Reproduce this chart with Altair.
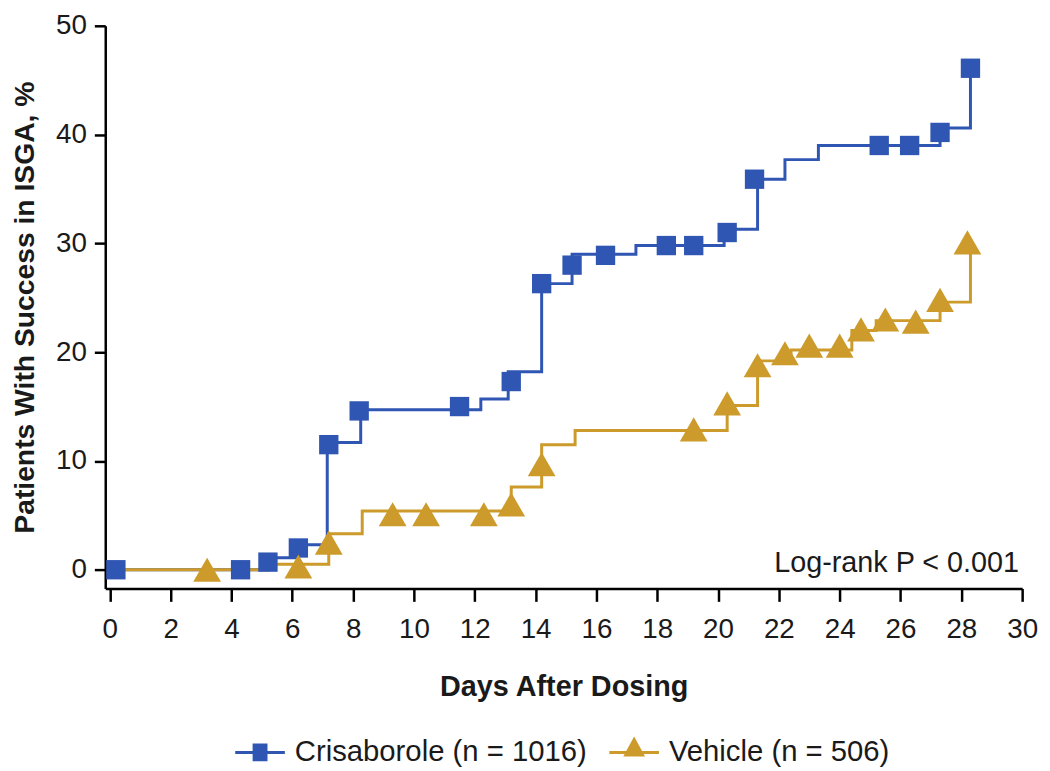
import altair as alt
import pandas as pd

FONT = "Liberation Sans"
TEXT = "#1a1a1a"

series_names = ["Crisaborole (n = 1016)", "Vehicle (n = 506)"]
series_colors = ["#3056b3", "#cc9b2b"]

# Kaplan-Meier style step curves (day, cumulative % success)
cris_step_day = [0, 5.2, 6.2, 7.15, 8.25, 12.2, 13.1, 14.2, 15.2, 17.3, 20.2, 21.3, 22.2, 23.3, 27.3, 28.3]
cris_step_pct = [0, 1.1, 2.3, 11.7, 14.7, 15.7, 18.2, 26.3, 29.0, 29.8, 31.3, 35.9, 37.7, 39.0, 40.6, 46.1]
veh_step_day = [0, 5.2, 7.2, 8.3, 13.2, 14.2, 15.3, 20.3, 21.3, 22.4, 24.4, 25.2, 27.3, 28.3]
veh_step_pct = [0, 0.5, 3.3, 5.4, 7.6, 11.5, 12.8, 15.1, 19.2, 20.2, 22.0, 22.9, 24.6, 29.5]

# censoring markers
cris_mark_day = [0.2, 4.3, 5.2, 6.2, 7.2, 8.2, 11.5, 13.2, 14.2, 15.2, 16.3, 18.3, 19.2, 20.3, 21.2, 25.3, 26.3, 27.3, 28.3]
cris_mark_pct = [0, 0, 0.7, 2.0, 11.5, 14.6, 15.0, 17.3, 26.3, 28.0, 28.9, 29.8, 29.8, 31.0, 35.9, 39.0, 39.0, 40.2, 46.1]
veh_mark_day = [3.2, 6.2, 7.2, 9.3, 10.4, 12.3, 13.2, 14.2, 19.2, 20.3, 21.3, 22.2, 23.0, 24.0, 24.7, 25.5, 26.5, 27.3, 28.2]
veh_mark_pct = [0, 0.3, 2.5, 5.1, 5.1, 5.1, 6.0, 9.7, 12.9, 15.3, 18.8, 19.9, 20.6, 20.6, 22.1, 23.0, 22.8, 24.8, 30.1]

x_ticks = list(range(0, 31, 2))
y_ticks = [0, 10, 20, 30, 40, 50]
x_title = "Days After Dosing"
y_title = "Patients With Success in ISGA, %"
annotation_text = ["Log-rank P < 0.001"]
annotation_day = [29.9]
annotation_pct = [0]

cris_steps = pd.DataFrame({"day": cris_step_day, "pct": cris_step_pct})
veh_steps = pd.DataFrame({"day": veh_step_day, "pct": veh_step_pct})
cris_marks = pd.DataFrame({"day": cris_mark_day, "pct": cris_mark_pct})
veh_marks = pd.DataFrame({"day": veh_mark_day, "pct": veh_mark_pct})
legend_df = pd.DataFrame({"series": series_names})
annot_df = pd.DataFrame({"day": annotation_day, "pct": annotation_pct, "txt": annotation_text})

x_enc = alt.X(
    "day:Q",
    scale=alt.Scale(domain=[-0.15, 30], nice=False, zero=False),
    axis=alt.Axis(
        values=x_ticks, title=x_title, grid=False,
        labelFontSize=28, labelColor=TEXT, labelFont=FONT, labelPadding=14,
        labelFlush=False, labelOverlap=False,
        tickSize=13, tickWidth=2.5, tickColor="black",
        domainColor="black", domainWidth=2.5,
        titleFontSize=29, titleFont=FONT, titleFontWeight="bold", titleColor=TEXT,
        titlePadding=30,
    ),
)
y_enc = alt.Y(
    "pct:Q",
    scale=alt.Scale(domain=[-1.72, 50], nice=False, zero=False),
    axis=alt.Axis(
        values=y_ticks, title=y_title, grid=False,
        labelFontSize=28, labelColor=TEXT, labelFont=FONT, labelPadding=8,
        labelFlush=False, labelOverlap=False,
        tickSize=11, tickWidth=2.5, tickColor="black",
        domainColor="black", domainWidth=2.5,
        titleFontSize=28.5, titleFont=FONT, titleFontWeight="bold", titleColor=TEXT,
        titlePadding=16,
    ),
)

tri_path = "M0,-0.87L1,0.87L-1,0.87Z"

cris_line = alt.Chart(cris_steps).mark_line(
    interpolate="step-after", color=series_colors[0], strokeWidth=3
).encode(x=x_enc, y=y_enc)
veh_line = alt.Chart(veh_steps).mark_line(
    interpolate="step-after", color=series_colors[1], strokeWidth=3
).encode(x=x_enc, y=y_enc)
cris_pts = alt.Chart(cris_marks).mark_point(
    filled=True, shape="square", size=380, color=series_colors[0], opacity=1
).encode(x=x_enc, y=y_enc)
veh_pts = alt.Chart(veh_marks).mark_point(
    filled=True, shape=tri_path, size=784, color=series_colors[1], opacity=1
).encode(x=x_enc, y=y_enc)

legend_paths = [
    "M-1,-0.06H1V0.06H-1Z M-0.3,-0.36H0.3V0.36H-0.3Z",
    "M-1,-0.06H1V0.06H-1Z M0,-0.64L0.44,0.16H-0.44Z",
]
leg = alt.Legend(
    title=None, orient="none", legendX=131, legendY=707, direction="horizontal",
    symbolSize=2500, symbolOpacity=1, symbolStrokeWidth=0,
    labelFontSize=29.5, labelFont=FONT, labelColor=TEXT, labelOffset=10, labelLimit=0,
    columnPadding=22, padding=0,
)
legend_layer = alt.Chart(legend_df).mark_point(filled=True, opacity=0).encode(
    color=alt.Color("series:N", scale=alt.Scale(domain=series_names, range=series_colors), legend=leg),
    shape=alt.Shape("series:N", scale=alt.Scale(domain=series_names, range=legend_paths), legend=leg),
)

annot = alt.Chart(annot_df).mark_text(
    align="right", baseline="alphabetic", fontSize=29, font=FONT, color=TEXT, dy=2
).encode(x=x_enc, y=y_enc, text="txt:N")

chart = alt.layer(cris_line, veh_line, cris_pts, veh_pts, annot, legend_layer).properties(
    width=924, height=567,
    autosize=alt.AutoSizeParams(type="none"),
    padding={"left": 98, "top": 15, "right": 20, "bottom": 180},
).configure(font=FONT).configure_view(stroke=None)

chart.save("out.html", embed_options={"renderer": "svg", "actions": False})
